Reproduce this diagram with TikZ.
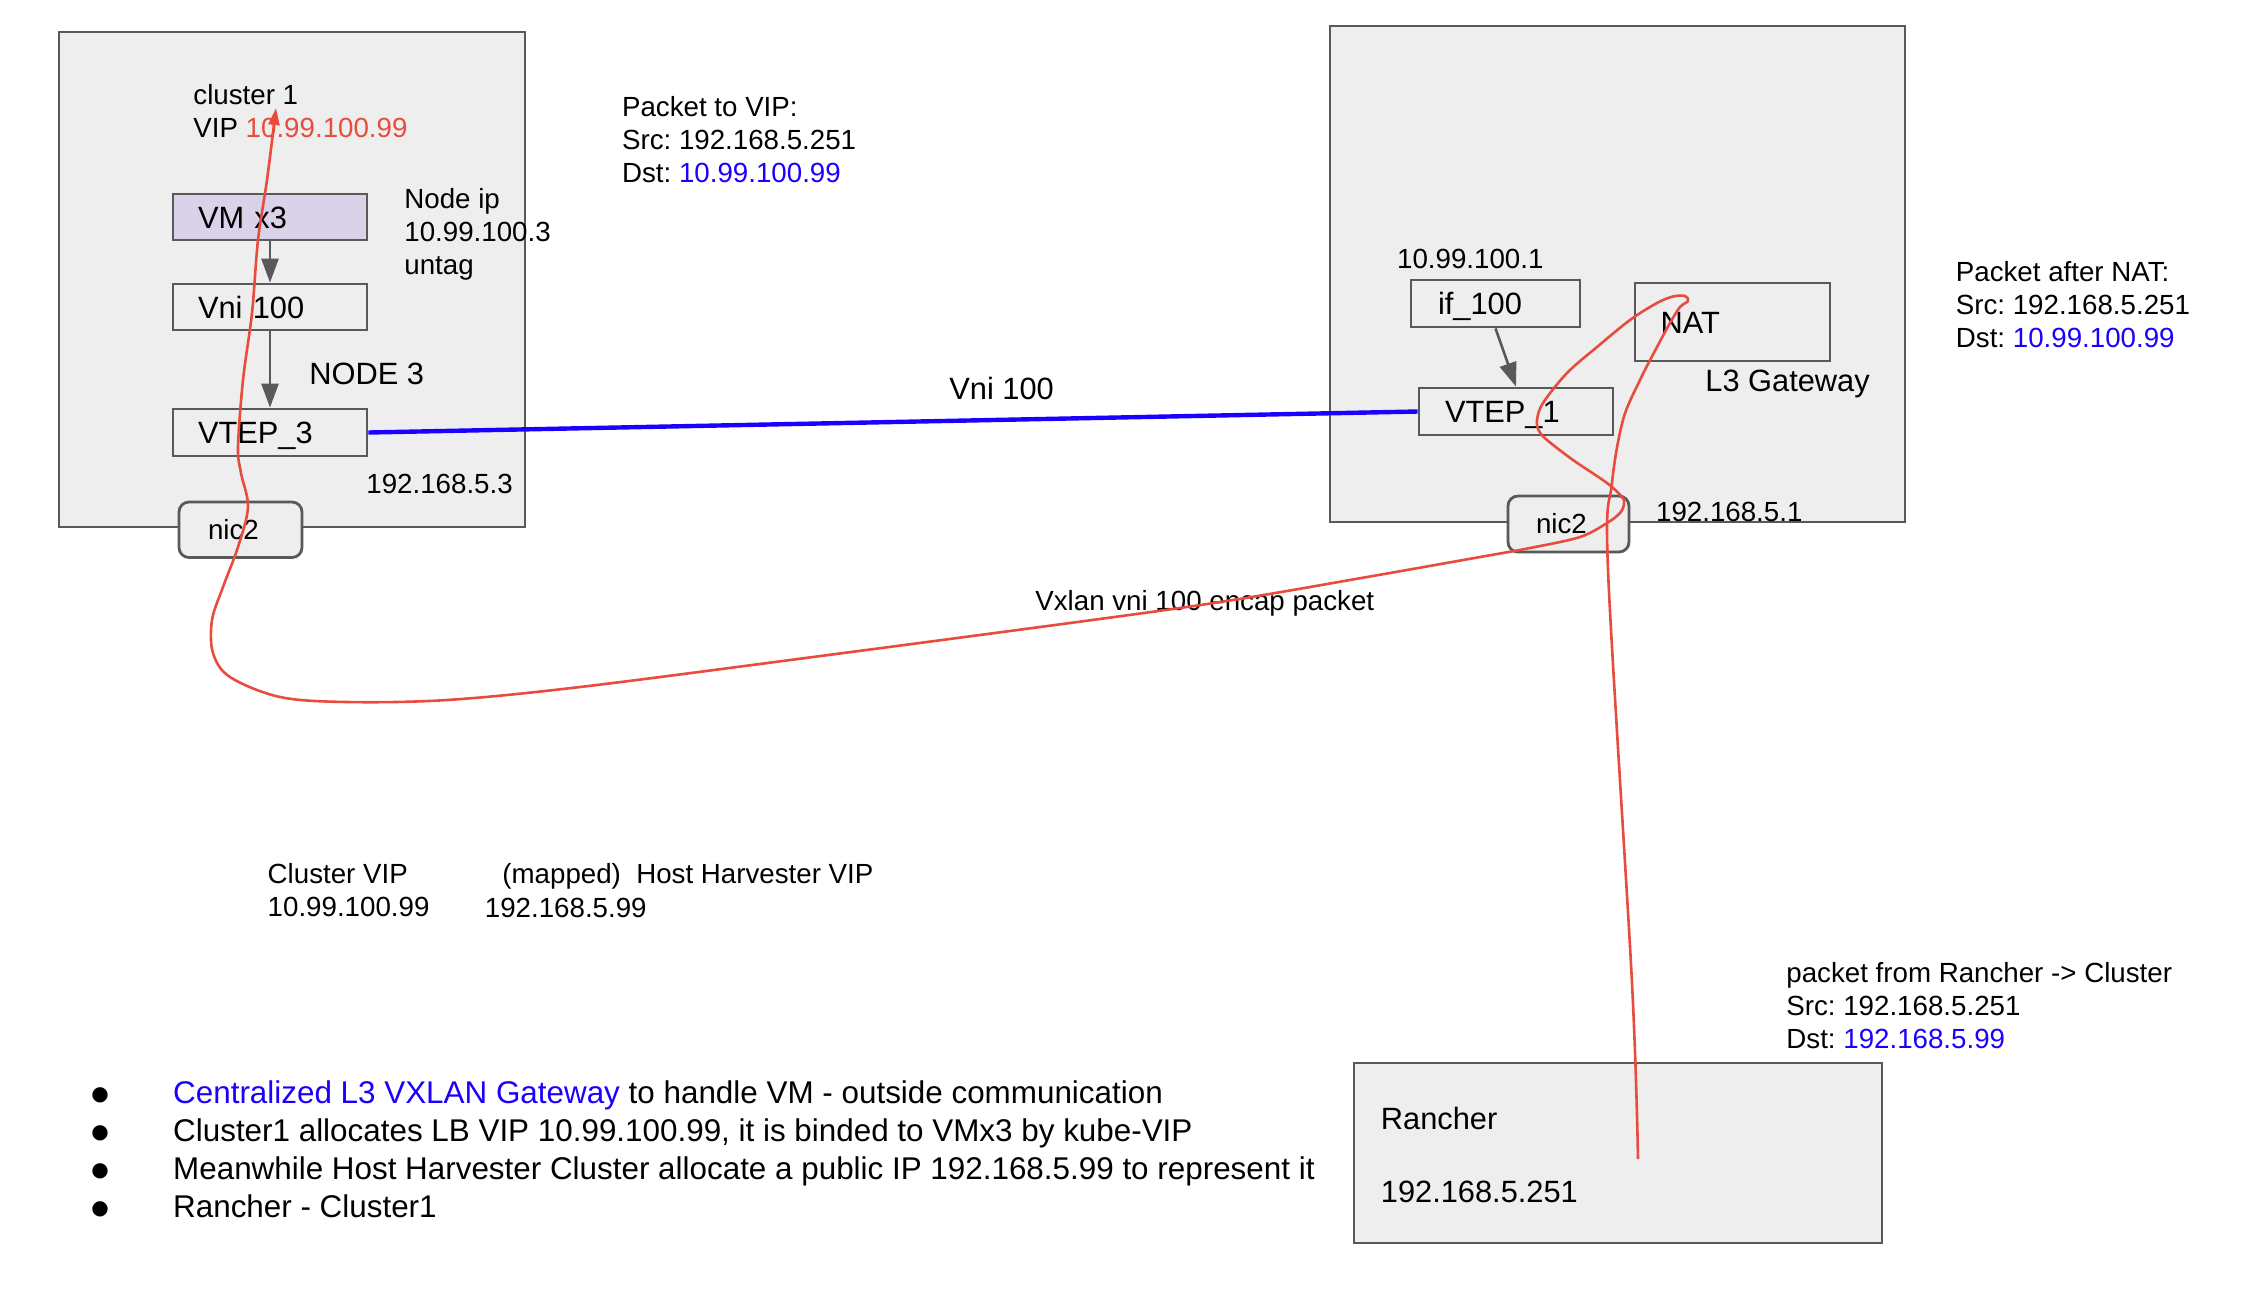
\documentclass[tikz,border=0pt]{standalone}
\usepackage{fontspec}
\setmainfont{Liberation Sans}
\newfontfamily\symfont{DejaVu Sans}
\usetikzlibrary{arrows.meta}
\definecolor{edgegray}{RGB}{89,89,89}
\definecolor{boxfill}{RGB}{238,238,238}
\definecolor{vmfill}{RGB}{217,210,233}
\definecolor{redc}{RGB}{232,76,61}
\definecolor{bluec}{RGB}{28,0,255}
\newcommand\fsmall{\fontsize{13.85}{16.5}\selectfont\frenchspacing}
\newcommand\fbig{\fontsize{15.4}{19}\selectfont\frenchspacing}
\newcommand\fnote{\fontsize{15.7}{19}\selectfont\frenchspacing}
\newcommand\bul{\makebox[40.9pt][l]{\raisebox{1.5pt}{\fontsize{10}{10}\symfont ●}}}
\begin{document}
\begin{tikzpicture}[x=0.5pt,y=-0.5pt,
  box/.style={draw=edgegray, line width=1.4pt, fill=boxfill, inner ysep=0pt, align=left, text depth=0pt},
  bigbox/.style={box, font=\fbig, text height=11pt},
  smallbox/.style={box, font=\fsmall, text height=9.8pt, rounded corners=5pt},
  txt/.style={anchor=base west, inner sep=0pt, align=left, font=\fsmall},
  btxt/.style={txt, font=\fbig},
  flow/.style={draw=edgegray, line width=1.3pt, -{Triangle[length=12pt,width=8.5pt]}},
  tunnel/.style={draw=bluec, line width=2.2pt},
  pkt/.style={draw=redc, line width=1.3pt, -{Triangle[length=8.5pt,width=5.5pt]}}]
\useasboundingbox[fill=white] (0,0) rectangle (2266,1298);

% containers
\node[box, minimum width=233pt, minimum height=247.5pt] (node3) at (292,279.5) {};
\node[box, minimum width=287.5pt, minimum height=248pt] (gw) at (1617.5,274) {};
\node[box, minimum width=264pt, minimum height=90pt] (rancher) at (1618,1153) {};

% node 3 internals
\node[bigbox, fill=vmfill, minimum width=97pt, minimum height=23pt, text width=72pt, inner xsep=12.5pt] (vm) at (270,217) {VM x3};
\node[bigbox, minimum width=97pt, minimum height=23pt, text width=72pt, inner xsep=12.5pt] (vni) at (270,307) {Vni 100};
\node[bigbox, minimum width=97pt, minimum height=23.5pt, text width=72pt, inner xsep=12.5pt] (vtep3) at (270,432.5) {VTEP\_3};
\node[smallbox, minimum width=61.5pt, minimum height=27.75pt, text width=32.5pt, inner xsep=14.5pt] (nicL) at (240.5,529.75) {nic2};

% gateway internals
\node[bigbox, minimum width=84.5pt, minimum height=23.5pt, text width=57.5pt, inner xsep=13.5pt] (if100) at (1495.5,303.5) {if\_100};
\node[bigbox, minimum width=97pt, minimum height=23.5pt, text width=71pt, inner xsep=13pt] (vtep1) at (1516,411.5) {VTEP\_1};
\node[bigbox, minimum width=97.5pt, minimum height=39pt, text width=72pt, inner xsep=12.75pt] (nat) at (1732.5,322) {NAT};
\node[smallbox, minimum width=60.5pt, minimum height=28pt, text width=32.5pt, inner xsep=14pt] (nicR) at (1568.5,524) {nic2};

% connectors
\draw[flow] (vm.south) -- (vni.north);
\draw[flow] (vni.south) -- (vtep3.north);
\draw[flow] (if100.south) -- (vtep1.north);
\draw[tunnel] (vtep3.east) -- (vtep1.west);

% labels (multi-line nodes are anchored at the baseline of their last line)
\node[txt] (clus) at (193,137) {cluster 1\\VIP \textcolor{redc}{10.99.100.99}};
\node[txt] (nodeip) at (404,274.6) {Node ip\\10.99.100.3\\untag};
\node[btxt] (node3lbl) at (309,384) {NODE 3};
\node[txt] (ip3) at (366,493) {192.168.5.3};
\node[txt] (pkt1) at (621.7,182.7) {Packet to VIP:\\Src: 192.168.5.251\\Dst: \textcolor{bluec}{10.99.100.99}};
\node[btxt] (vnilbl) at (949,399) {Vni 100};
\node[txt] (vxlan) at (1035,610) {Vxlan vni 100 encap packet};
\node[txt] (ip1) at (1396.7,268.5) {10.99.100.1};
\node[btxt] (l3) at (1705,391) {L3 Gateway};
\node[txt] (ip51) at (1655.7,521.7) {192.168.5.1};
\node[txt] (pkt2) at (1955.5,347.5) {Packet after NAT:\\Src: 192.168.5.251\\Dst: \textcolor{bluec}{10.99.100.99}};
\node[txt] (cvip) at (267.3,916.5) {Cluster VIP\\10.99.100.99};
\node[txt] (hvip) at (502,883.3) {(mapped)\ \ Host Harvester VIP};
\node[txt] (hvipip) at (484.5,917) {192.168.5.99};
\node[btxt] (rtxt) at (1380.5,1202) {Rancher\\[17.5pt]192.168.5.251};
\node[txt] (pkt3) at (1786,1048.7) {packet from Rancher -> Cluster\\Src: 192.168.5.251\\Dst: \textcolor{bluec}{192.168.5.99}};
\node[txt, font=\fnote] (notes) at (91,1217) {\bul\textcolor{bluec}{Centralized L3 VXLAN Gateway} to handle VM - outside communication\\
\bul Cluster1 allocates LB VIP 10.99.100.99, it is binded to VMx3 by kube-VIP\\
\bul Meanwhile Host Harvester Cluster allocate a public IP 192.168.5.99 to represent it\\
\bul Rancher - Cluster1};

% packet path
\coordinate (pktsrc) at (1638,1159);
\coordinate (vip) at (276,108);
\draw[pkt] plot[smooth, tension=0.55] coordinates {(pktsrc) (1632,983) (1608,570) (1612,483) (1623,420) (1640,380) (1657,347) (1670,323) (1680,307) (1688,301) (1685,296) (1673,296.5) (1657,303) (1630,320) (1597,347) (1567,373) (1543,403) (1537,420) (1539,431) (1547,440) (1573,460) (1607,483) (1622,497) (1624,504) (1620,513) (1607,523) (1580,537) (1530,548) (1480,557) (1367,577) (1233,600) (1107,618) (813,657) (580,687) (447,700) (347,702) (280,697) (230,677) (213,653) (212,620) (223,587) (238,547) (248,507) (241,473) (238,447) (243,380) (252,313) (258,240) (267,180) (vip)};
\end{tikzpicture}
\end{document}
